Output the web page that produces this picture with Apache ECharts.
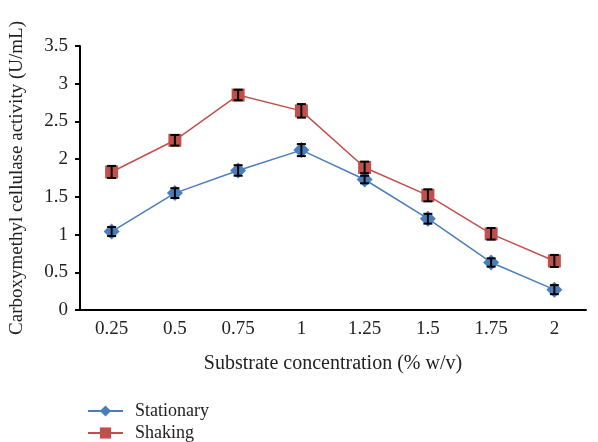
<!DOCTYPE html>
<html>
<head>
<meta charset="utf-8">
<script src="https://cdn.jsdelivr.net/npm/echarts@6/dist/echarts.min.js"></script>
<style>
  html, body { margin: 0; padding: 0; background: #fff; }
  #chart { width: 598px; height: 442px; }
</style>
</head>
<body>
<div id="chart"></div>
<script>
// data
const categories = ['0.25', '0.5', '0.75', '1', '1.25', '1.5', '1.75', '2'];
const stationary = [1.04, 1.55, 1.85, 2.12, 1.73, 1.21, 0.63, 0.27];
const shaking = [1.83, 2.25, 2.85, 2.64, 1.89, 1.52, 1.01, 0.65];
const stationaryErr = [0.06, 0.065, 0.07, 0.08, 0.05, 0.065, 0.055, 0.06];
const shakingErr = [0.08, 0.07, 0.07, 0.09, 0.077, 0.08, 0.077, 0.08];
const yTicks = [0, 0.5, 1, 1.5, 2, 2.5, 3, 3.5];

const font = 'Liberation Serif';

// error bar helper
const errorSeries = (values, errs, z) => ({
  type: 'custom',
  z: z,
  silent: true,
  data: values.map((v, i) => [i, v - errs[i], v + errs[i]]),
  renderItem: function (params, api) {
    const lo = api.coord([api.value(0), api.value(1)]);
    const hi = api.coord([api.value(0), api.value(2)]);
    const w = 4.5;
    const style = { stroke: '#000', lineWidth: 2 };
    return {
      type: 'group',
      children: [
        { type: 'line', shape: { x1: lo[0], y1: lo[1], x2: hi[0], y2: hi[1] }, style: style },
        { type: 'line', shape: { x1: lo[0] - w, y1: lo[1], x2: lo[0] + w, y2: lo[1] }, style: style },
        { type: 'line', shape: { x1: hi[0] - w, y1: hi[1], x2: hi[0] + w, y2: hi[1] }, style: style }
      ]
    };
  }
});

const chart = echarts.init(document.getElementById('chart'));
const option = {
  animation: false,
  textStyle: { fontFamily: font },
  grid: { left: 80, top: 46, right: 12, bottom: 132, outerBoundsMode: 'none' },
  legend: {
    orient: 'vertical',
    left: 82,
    top: 397,
    height: 60,
    itemWidth: 35,
    itemHeight: 14,
    itemGap: 4,
    textStyle: { fontFamily: font, fontSize: 18, color: '#222', padding: [0, 0, 0, 7] },
    data: ['Stationary', 'Shaking']
  },
  xAxis: {
    type: 'category',
    data: categories,
    boundaryGap: true,
    name: 'Substrate concentration (% w/v)',
    nameLocation: 'middle',
    nameGap: 44,
    nameTextStyle: { fontFamily: font, fontSize: 20, color: '#222' },
    axisLine: { lineStyle: { color: '#000', width: 2 } },
    axisTick: { length: 5, lineStyle: { color: '#000', width: 2 } },
    axisLabel: { fontFamily: font, fontSize: 19, color: '#222', margin: 10 }
  },
  yAxis: {
    type: 'value',
    min: 0,
    max: 3.5,
    interval: 0.5,
    name: 'Carboxymethyl cellulase activity (U/mL)',
    nameLocation: 'middle',
    nameGap: 53,
    nameTextStyle: { fontFamily: font, fontSize: 19, color: '#222' },
    axisLine: { show: true, lineStyle: { color: '#000', width: 2 } },
    axisTick: { show: true, length: 5, lineStyle: { color: '#000', width: 2 } },
    axisLabel: {
      fontFamily: font, fontSize: 19, color: '#222', margin: 12,
      formatter: v => (yTicks.indexOf(v) >= 0 ? String(v) : '')
    },
    splitLine: { show: false }
  },
  series: [
    {
      name: 'Stationary',
      type: 'line',
      data: stationary,
      symbol: 'diamond',
      symbolSize: 16,
      itemStyle: { color: '#4a7ebb' },
      lineStyle: { color: '#4a7ebb', width: 1.5 },
      z: 3
    },
    {
      name: 'Shaking',
      type: 'line',
      data: shaking,
      symbol: 'rect',
      symbolSize: 13,
      itemStyle: { color: '#c0504d' },
      lineStyle: { color: '#c0504d', width: 1.5 },
      z: 3
    },
    errorSeries(stationary, stationaryErr, 4),
    errorSeries(shaking, shakingErr, 4)
  ]
};
chart.setOption(option);
window.addEventListener('resize', () => {
  chart.resize()
})
</script>
</body>
</html>
